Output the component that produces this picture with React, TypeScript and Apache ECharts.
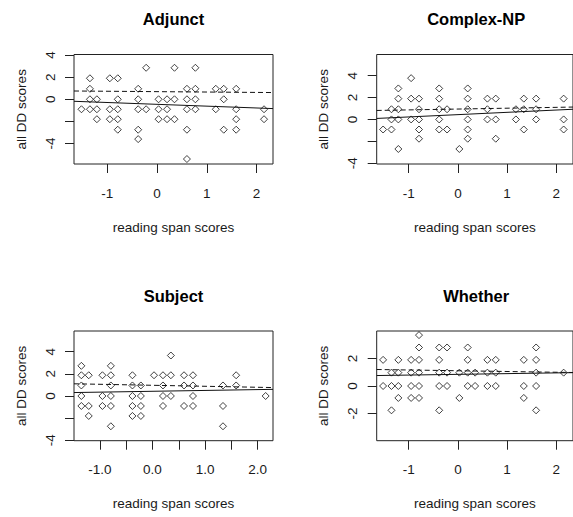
import React, { useEffect, useRef } from "react";
import * as echarts from "echarts";

// ---------- data ----------
const panelTitles = ["Adjunct", "Complex-NP", "Subject", "Whether"];
const xAxisTitle = "reading span scores";
const yAxisTitle = "all DD scores";

// axis limits per panel: [min, max]
const xLimits = [
  [-1.67, 2.33],
  [-1.65, 2.34],
  [-1.49, 2.29],
  [-1.65, 2.34],
];
const yLimits = [
  [-5.85, 4.05],
  [-4.07, 5.93],
  [-4.03, 5.86],
  [-3.98, 4.0],
];

// tick positions and labelled ticks
const xTicksA = [-1, 0, 1, 2];
const xTicksSubject = [-1, -0.5, 0, 0.5, 1, 1.5, 2];
const xLabelsSubject = [-1, 0, 1, 2];
const yTicksWide = [-4, -2, 0, 2, 4];
const yLabelsWide = [-4, 0, 2, 4];
const yTicksWhether = [-2, 0, 2];
const yLabelsWhether = [-2, 0, 2];

const adjunctPoints = [
  [-1.52, -0.9],
  [-1.35, 1.9], [-1.35, 0.95], [-1.35, 0], [-1.35, -0.9],
  [-1.21, 0], [-1.21, -0.9], [-1.21, -1.8],
  [-0.95, 1.9], [-0.95, -0.9], [-0.95, -1.8],
  [-0.79, 1.9], [-0.79, 0], [-0.79, -0.9], [-0.79, -1.8], [-0.79, -2.75],
  [-0.38, 0.95], [-0.38, 0], [-0.38, -0.9], [-0.38, -2.75], [-0.38, -3.6],
  [-0.22, 2.85], [-0.22, -0.9],
  [0.03, 0], [0.03, -0.9], [0.03, -1.8],
  [0.2, 0], [0.2, -0.9], [0.2, -1.8],
  [0.35, 2.85], [0.35, 0], [0.35, -1.8],
  [0.6, 0.95], [0.6, 0], [0.6, -0.9], [0.6, -2.75], [0.6, -5.4],
  [0.77, 2.85], [0.77, 0.95], [0.77, 0], [0.77, -0.9],
  [1.18, 0.95], [1.18, -0.9],
  [1.34, 0.95], [1.34, 0], [1.34, -2.75],
  [1.59, 0.95], [1.59, -0.9], [1.59, -1.8], [1.59, -2.75],
  [2.15, -0.9], [2.15, -1.8],
];

const complexNPPoints = [
  [-1.52, -0.92],
  [-1.35, 0.93], [-1.35, 0], [-1.35, -0.92],
  [-1.21, 2.83], [-1.21, 1.9], [-1.21, 0.93], [-1.21, 0], [-1.21, -2.7],
  [-0.95, 3.77], [-0.95, 1.9], [-0.95, 0],
  [-0.79, 1.9], [-0.79, 0.93], [-0.79, 0], [-0.79, -0.92], [-0.79, -1.76],
  [-0.38, 2.83], [-0.38, 1.9], [-0.38, 0.93], [-0.38, 0], [-0.38, -0.92],
  [-0.22, 0.93], [-0.22, -0.92],
  [0.03, -2.7],
  [0.2, 2.83], [0.2, 1.9], [0.2, 0.93], [0.2, 0], [0.2, -0.92], [0.2, -1.76],
  [0.6, 1.9], [0.6, 0.93], [0.6, 0],
  [0.77, 1.9], [0.77, 0], [0.77, -1.76],
  [1.18, 0.93], [1.18, 0],
  [1.34, 1.9], [1.34, 0.93], [1.34, -0.92],
  [1.59, 1.9], [1.59, 0.93], [1.59, 0],
  [2.15, 1.9], [2.15, 0], [2.15, -0.92],
];

const subjectPoints = [
  [-1.35, 2.72], [-1.35, 1.87], [-1.35, 0.95], [-1.35, 0], [-1.35, -0.9],
  [-1.21, 1.87], [-1.21, -0.9], [-1.21, -1.8],
  [-0.95, 1.87], [-0.95, 0], [-0.95, -0.9],
  [-0.79, 2.72], [-0.79, 1.87], [-0.79, 0.95], [-0.79, 0], [-0.79, -0.9], [-0.79, -2.73],
  [-0.38, 1.87], [-0.38, 0.95], [-0.38, 0], [-0.38, -0.9], [-0.38, -1.8],
  [-0.22, 0.95], [-0.22, 0], [-0.22, -0.9], [-0.22, -1.8],
  [0.03, 1.87],
  [0.2, 1.87], [0.2, 0.95], [0.2, 0], [0.2, -0.9],
  [0.35, 3.65], [0.35, 1.87], [0.35, 0],
  [0.6, 1.87], [0.6, 0.95], [0.6, -0.9],
  [0.77, 1.87], [0.77, 0.95], [0.77, 0], [0.77, -0.9],
  [1.34, 0.95], [1.34, -0.9], [1.34, -2.73],
  [1.59, 1.87], [1.59, 0.95],
  [2.15, 0],
];

const whetherPoints = [
  [-1.52, 1.9], [-1.52, 0],
  [-1.35, 0.97], [-1.35, 0], [-1.35, -1.77],
  [-1.21, 1.9], [-1.21, 0.97], [-1.21, 0], [-1.21, -0.87],
  [-0.95, 1.9], [-0.95, 0.97], [-0.95, 0], [-0.95, -0.87],
  [-0.79, 3.7], [-0.79, 2.8], [-0.79, 1.9], [-0.79, 0.97], [-0.79, 0], [-0.79, -0.87],
  [-0.38, 2.8], [-0.38, 1.9], [-0.38, 0.97], [-0.38, 0], [-0.38, -1.77],
  [-0.22, 2.8], [-0.22, 0.97], [-0.22, 0],
  [0.03, 0.97], [0.03, -0.87],
  [0.2, 2.8], [0.2, 1.9], [0.2, 0.97], [0.2, 0],
  [0.35, 0.97], [0.35, 0],
  [0.6, 1.9], [0.6, 0.97], [0.6, 0],
  [0.77, 1.9], [0.77, 0.97], [0.77, 0],
  [1.34, 1.9], [1.34, 0], [1.34, -0.87],
  [1.59, 2.8], [1.59, 1.9], [1.59, 0.97], [1.59, 0], [1.59, -1.77],
  [2.15, 0.97],
];

// fitted lines: two end points each (solid and dashed)
const adjunctSolid = [[-1.67, -0.18], [2.33, -0.84]];
const adjunctDashed = [[-1.67, 0.75], [2.33, 0.61]];
const complexNPSolid = [[-1.65, 0.09], [2.34, 0.93]];
const complexNPDashed = [[-1.65, 0.82], [2.34, 1.13]];
const subjectSolid = [[-1.49, 0.31], [2.29, 0.6]];
const subjectDashed = [[-1.49, 1.1], [2.29, 0.76]];
const whetherSolid = [[-1.65, 0.76], [2.34, 0.97]];
const whetherDashed = [[-1.65, 1.2], [2.34, 0.98]];

// ---------- layout / style ----------
const FONT = '"Liberation Sans", Arial, sans-serif';
const INK = "#1a1a1a";
const LINE = "#222";

const grids = [
  { left: 74, top: 54.5, width: 199, height: 109.5 },
  { left: 376.7, top: 54.5, width: 199, height: 109.5 },
  { left: 74, top: 331, width: 199, height: 109.7 },
  { left: 376.7, top: 331, width: 199, height: 109.7 },
];

export default function App() {
  const ref = useRef<HTMLDivElement>(null);

  useEffect(() => {
    if (!ref.current) return;
    const chart = echarts.init(ref.current, undefined, { renderer: "svg" });

    const pointsAll = [adjunctPoints, complexNPPoints, subjectPoints, whetherPoints];
    const solids = [adjunctSolid, complexNPSolid, subjectSolid, whetherSolid];
    const dashes = [adjunctDashed, complexNPDashed, subjectDashed, whetherDashed];
    const xTicks = [xTicksA, xTicksA, xTicksSubject, xTicksA];
    const xLabels = [xTicksA, xTicksA, xLabelsSubject, xTicksA];
    const yTicks = [yTicksWide, yTicksWide, yTicksWide, yTicksWhether];
    const yLabels = [yLabelsWide, yLabelsWide, yLabelsWide, yLabelsWhether];

    const xAxis = grids.map((_, i) => ({
      gridIndex: i,
      type: "value",
      position: "bottom",
      min: xLimits[i][0],
      max: xLimits[i][1],
      axisLine: { show: false, onZero: false },
      splitLine: { show: false },
      axisTick: {
        show: true,
        inside: false,
        length: 9,
        customValues: xTicks[i],
        lineStyle: { color: LINE, width: 1 },
      },
      axisLabel: {
        customValues: xLabels[i],
        formatter: (v: number) => (i === 2 ? v.toFixed(1) : String(v)),
        margin: 22,
        fontSize: 13.5,
        fontFamily: FONT,
        color: INK,
      },
      name: xAxisTitle,
      nameLocation: "middle",
      nameGap: 56,
      nameTextStyle: { fontSize: 13.5, fontFamily: FONT, color: INK },
    }));

    const yAxis = grids.map((_, i) => ({
      gridIndex: i,
      type: "value",
      position: "left",
      min: yLimits[i][0],
      max: yLimits[i][1],
      axisLine: { show: false, onZero: false },
      splitLine: { show: false },
      axisTick: {
        show: true,
        inside: false,
        length: 9,
        customValues: yTicks[i],
        lineStyle: { color: LINE, width: 1 },
      },
      axisLabel: {
        customValues: yLabels[i],
        rotate: 90,
        margin: 17,
        fontSize: 13.5,
        fontFamily: FONT,
        color: INK,
      },
      name: yAxisTitle,
      nameLocation: "middle",
      nameGap: 46,
      nameTextStyle: { fontSize: 13.5, fontFamily: FONT, color: INK },
    }));

    const series: any[] = [];
    grids.forEach((_, i) => {
      series.push({
        type: "scatter",
        xAxisIndex: i,
        yAxisIndex: i,
        data: pointsAll[i],
        symbol: "diamond",
        symbolSize: 7,
        silent: true,
        itemStyle: { color: "rgba(0,0,0,0)", borderColor: "#111", borderWidth: 1 },
      });
      series.push({
        type: "line",
        xAxisIndex: i,
        yAxisIndex: i,
        data: solids[i],
        symbol: "none",
        silent: true,
        lineStyle: { color: "#111", width: 1, type: "solid" },
      });
      series.push({
        type: "line",
        xAxisIndex: i,
        yAxisIndex: i,
        data: dashes[i],
        symbol: "none",
        silent: true,
        lineStyle: { color: "#111", width: 1, type: [5, 3] },
      });
    });

    const graphic = grids.map((g, i) => ({
      type: "text",
      x: g.left + g.width / 2,
      y: g.top - 35.5,
      style: {
        text: panelTitles[i],
        fontSize: 16.5,
        fontWeight: "bold",
        fontFamily: FONT,
        fill: "#000",
        align: "center",
        verticalAlign: "middle",
      },
    }));

    chart.setOption({
      animation: false,
      backgroundColor: "#fff",
      grid: grids.map((g) => ({
        ...g,
        show: true,
        borderColor: LINE,
        borderWidth: 1,
        backgroundColor: "rgba(0,0,0,0)",
        containLabel: false,
      })),
      xAxis,
      yAxis,
      series,
      graphic,
    });

    return () => chart.dispose();
  }, []);

  return (
    <div
      ref={ref}
      style={{ position: "absolute", left: 0, top: 0, width: 573, height: 517 }}
    />
  );
}
